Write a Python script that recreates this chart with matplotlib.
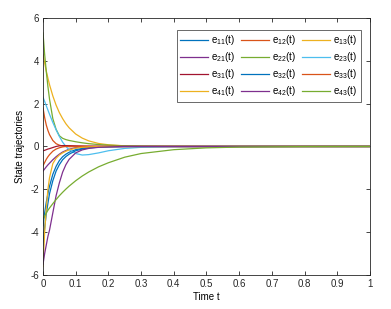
import matplotlib
matplotlib.use("Agg")
import matplotlib.pyplot as plt

t = [0, 0.005, 0.01, 0.015, 0.02, 0.03, 0.04, 0.05, 0.06, 0.07, 0.08, 0.1,
     0.12, 0.14, 0.17, 0.2, 0.25, 0.3, 0.4, 0.5, 0.6, 0.8, 1.0]

e11 = [-3.7, -3.1, -2.6, -2.2, -1.85, -1.3, -0.93, -0.66, -0.48, -0.36, -0.27, -0.15,
       -0.09, -0.05, -0.02, -0.01, 0, 0, 0, 0, 0, 0, 0]
e12 = [1.8, 1.35, 1.0, 0.75, 0.55, 0.28, 0.13, 0.06, 0.02, 0.0, -0.01, -0.01,
       0, 0, 0, 0, 0, 0, 0, 0, 0, 0, 0]
e13 = [4.3, 3.89, 3.52, 3.19, 2.88, 2.36, 1.93, 1.58, 1.30, 1.06, 0.87, 0.58,
       0.39, 0.26, 0.14, 0.079, 0.029, 0.011, 0.001, 0, 0, 0, 0]
e21 = [-1.15, -1.05, -0.95, -0.86, -0.78, -0.62, -0.48, -0.36, -0.26, -0.19, -0.13, -0.06,
       -0.03, -0.02, -0.01, 0, 0, 0, 0, 0, 0, 0, 0]
e22 = [5.3, 4.3, 3.5, 2.8, 2.2, 1.3, 0.8, 0.5, 0.38, 0.32, 0.28, 0.22,
       0.17, 0.13, 0.09, 0.06, 0.03, 0.015, 0.005, 0, 0, 0, 0]
e23 = [2.3, 2.1, 1.9, 1.7, 1.5, 1.12, 0.78, 0.47, 0.2, 0.0, -0.15, -0.33,
       -0.4, -0.38, -0.3, -0.2, -0.09, -0.04, -0.01, 0, 0, 0, 0]
e31 = [-0.2, -0.18, -0.15, -0.12, -0.1, -0.05, 0.0, 0.03, 0.04, 0.04, 0.04, 0.03,
       0.02, 0.015, 0.01, 0, 0, 0, 0, 0, 0, 0, 0]
e32 = [-4.6, -3.8, -3.15, -2.65, -2.2, -1.6, -1.15, -0.85, -0.62, -0.47, -0.36, -0.2,
       -0.12, -0.07, -0.03, -0.015, 0, 0, 0, 0, 0, 0, 0]
e33 = [-0.9, -0.75, -0.6, -0.48, -0.38, -0.22, -0.12, -0.06, -0.02, 0.0, 0.01, 0.01,
       0, 0, 0, 0, 0, 0, 0, 0, 0, 0, 0]
e41 = [-5.6, -4.0, -2.9, -2.0, -1.45, -0.8, -0.55, -0.4, -0.3, -0.22, -0.16, -0.08,
       -0.04, -0.02, -0.01, 0, 0, 0, 0, 0, 0, 0, 0]
e42 = [-5.5, -5.0, -4.6, -4.2, -3.9, -3.1, -2.3, -1.7, -1.2, -0.85, -0.6, -0.3,
       -0.16, -0.09, -0.04, -0.02, 0, 0, 0, 0, 0, 0, 0]
e43 = [-3.4, -3.25, -3.1, -2.98, -2.87, -2.67, -2.48, -2.3, -2.14, -1.99, -1.85, -1.6,
       -1.38, -1.19, -0.95, -0.76, -0.5, -0.33, -0.15, -0.065, -0.028, -0.005, 0]

series = [e11, e12, e13, e21, e22, e23, e31, e32, e33, e41, e42, e43]
labels = ['11', '12', '13', '21', '22', '23', '31', '32', '33', '41', '42', '43']
colors = ['#0072BD', '#D95319', '#EDB120', '#7E2F8E', '#77AC30', '#4DBEEE',
          '#A2142F', '#0072BD', '#D95319', '#EDB120', '#7E2F8E', '#77AC30']

xticks = [0, 0.1, 0.2, 0.3, 0.4, 0.5, 0.6, 0.7, 0.8, 0.9, 1]
xticklabels = ['0', '0.1', '0.2', '0.3', '0.4', '0.5', '0.6', '0.7', '0.8', '0.9', '1']
yticks = [-6, -4, -2, 0, 2, 4, 6]
yticklabels = ['-6', '-4', '-2', '0', '2', '4', '6']

plt.rcParams['font.family'] = ['Liberation Sans', 'DejaVu Sans']
plt.rcParams['mathtext.fontset'] = 'custom'
plt.rcParams['mathtext.rm'] = 'Liberation Sans'

fig = plt.figure(figsize=(3.91, 3.09), dpi=100)
ax = fig.add_axes([0.110, 0.110, 0.836, 0.832])

handles = []
for s, lab, c in zip(series, labels, colors):
    h, = ax.plot(t, s, color=c, lw=0.9, label=r'$\mathregular{e_{%s}(t)}$' % lab)
    handles.append(h)

ax.set_xlim(0, 1)
ax.set_ylim(-6, 6)
ax.set_xticks(xticks)
ax.set_xticklabels(xticklabels)
ax.set_yticks(yticks)
ax.set_yticklabels(yticklabels)
ax.tick_params(direction='in', top=True, right=True, labelsize=7, length=3,
               width=0.6, colors='#262626', pad=3)
for sp in ax.spines.values():
    sp.set_linewidth(0.6)
    sp.set_color('#262626')
ax.set_xlabel('Time t', fontsize=7, labelpad=2)
ax.set_ylabel('State trajectories', fontsize=7, labelpad=4)

# row-major legend order (matplotlib fills columns first)
order = [0, 3, 6, 9, 1, 4, 7, 10, 2, 5, 8, 11]
leg = ax.legend([handles[i] for i in order], [handles[i].get_label() for i in order],
                ncol=3, loc='upper right', bbox_to_anchor=(0.972, 0.953),
                fontsize=7, frameon=True, fancybox=False, edgecolor='#262626',
                handlelength=2.9, handletextpad=0.3, columnspacing=0.6,
                labelspacing=0.3, borderpad=0.35, borderaxespad=0)
leg.get_frame().set_linewidth(0.6)

fig.savefig('out.png', dpi=100)
